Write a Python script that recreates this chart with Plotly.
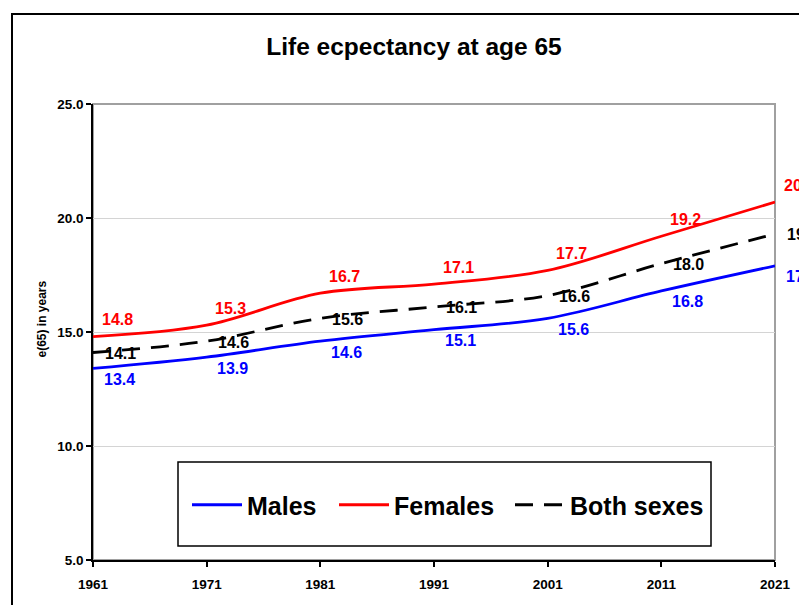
import plotly.graph_objects as go

# ---- data ----
years = [1961, 1971, 1981, 1991, 2001, 2011, 2021]
tick_labels = ["1961", "1971", "1981", "1991", "2001", "2011", "2021"]
males = [13.4, 13.9, 14.6, 15.1, 15.6, 16.8, 17.9]
females = [14.8, 15.3, 16.7, 17.1, 17.7, 19.2, 20.7]
both_sexes = [14.1, 14.6, 15.6, 16.1, 16.6, 18.0, 19.3]
y_ticks = [5, 10, 15, 20, 25]

FONT = "Liberation Sans, Arial, sans-serif"

# page body margin offset (browser default 8px)
OFF = 8
W, H = 807 - OFF, 605 - OFF
# plot-area geometry in reference pixels
RL, RR, RT, RB = 93, 775, 104, 560
L, R, T, B = RL - OFF, RR - OFF, RT - OFF, RB - OFF
pw, ph = R - L, B - T


def px_x(p):
    return (p - RL) / pw


def px_y(p):
    return (RB - p) / ph


fig = go.Figure()

series = [
    ("Males", males, "#0000FF", "solid", "legend", 187),
    ("Females", females, "#FF0000", "solid", "legend2", 334),
    ("Both sexes", both_sexes, "#000000", "18px,11px", "legend3", 510),
]
for name, vals, col, dash, lg, _ in series:
    fig.add_trace(go.Scatter(
        x=years, y=vals, name=name, mode="lines", legend=lg,
        line=dict(color=col, width=2.8, dash=dash, shape="spline", smoothing=1.0),
        hoverinfo="skip",
    ))

# data labels (offset style per series)
label_style = {
    "Males": dict(xshift=26, yshift=-11),
    "Females": dict(xshift=24, yshift=17),
    "Both sexes": dict(xshift=27, yshift=-1),
}
annotations = []
for name, vals, col, dash, lg, _ in series:
    st = label_style[name]
    for x, v in zip(years, vals):
        annotations.append(dict(
            x=x, y=v, xref="x", yref="y", text=f"{v:.1f}", showarrow=False,
            xanchor="center", yanchor="middle",
            xshift=st["xshift"], yshift=st["yshift"],
            font=dict(family=FONT, size=16, color=col, weight="bold"),
        ))

# y axis title
annotations.append(dict(
    x=px_x(41.5), y=px_y(319), xref="paper", yref="paper",
    text="e(65) in years", textangle=-90, showarrow=False,
    xanchor="center", yanchor="middle",
    font=dict(family=FONT, size=12, color="black", weight="bold"),
))

shapes = [
    # outer chart border
    dict(type="rect", xref="paper", yref="paper",
         x0=px_x(12), x1=px_x(830), y0=px_y(640), y1=px_y(14),
         line=dict(color="black", width=2), layer="below"),
    # plot area border (grey)
    dict(type="rect", xref="paper", yref="paper",
         x0=0, x1=1, y0=0, y1=1,
         line=dict(color="#a0a0a0", width=2), layer="below"),
    # legend box
    dict(type="rect", xref="paper", yref="paper",
         x0=px_x(178), x1=px_x(711), y0=px_y(546), y1=px_y(462),
         line=dict(color="black", width=1.5), fillcolor="white", layer="above"),
]

legend_common = dict(orientation="h", yanchor="middle", xanchor="left",
                     bgcolor="rgba(0,0,0,0)", borderwidth=0, itemwidth=50,
                     font=dict(family=FONT, size=25, color="black", weight="bold"))
legends = {}
for name, vals, col, dash, lg, lx in series:
    legends[lg] = dict(legend_common, x=px_x(lx), y=px_y(505))

fig.update_layout(
    width=W, height=H,
    margin=dict(l=L, r=W - R, t=T, b=H - B),
    paper_bgcolor="white", plot_bgcolor="white",
    title=dict(text="Life ecpectancy at age 65", x=(414 - OFF) / W, xref="container",
               xanchor="center", y=1 - (46 - OFF) / H, yref="container", yanchor="middle",
               font=dict(family=FONT, size=24.5, color="black", weight="bold")),
    showlegend=True,
    annotations=annotations,
    shapes=shapes,
    font=dict(family=FONT),
    **legends,
)

fig.update_xaxes(
    range=[1961, 2021], tickvals=years, ticktext=tick_labels,
    showgrid=False, zeroline=False,
    showline=True, linecolor="black", linewidth=1.5,
    ticks="outside", ticklen=5, tickwidth=1.5, tickcolor="black",
    tickfont=dict(family=FONT, size=13.5, color="black", weight="bold"),
    ticklabelstandoff=6,
)
fig.update_yaxes(
    range=[5, 25], tickvals=y_ticks, tickformat=".1f",
    showgrid=True, gridcolor="#d4d4d4", gridwidth=1, zeroline=False,
    showline=True, linecolor="black", linewidth=1.5,
    ticks="outside", ticklen=5, tickwidth=1.5, tickcolor="black",
    tickfont=dict(family=FONT, size=13.5, color="black", weight="bold"),
)

fig.write_html("out.html")
